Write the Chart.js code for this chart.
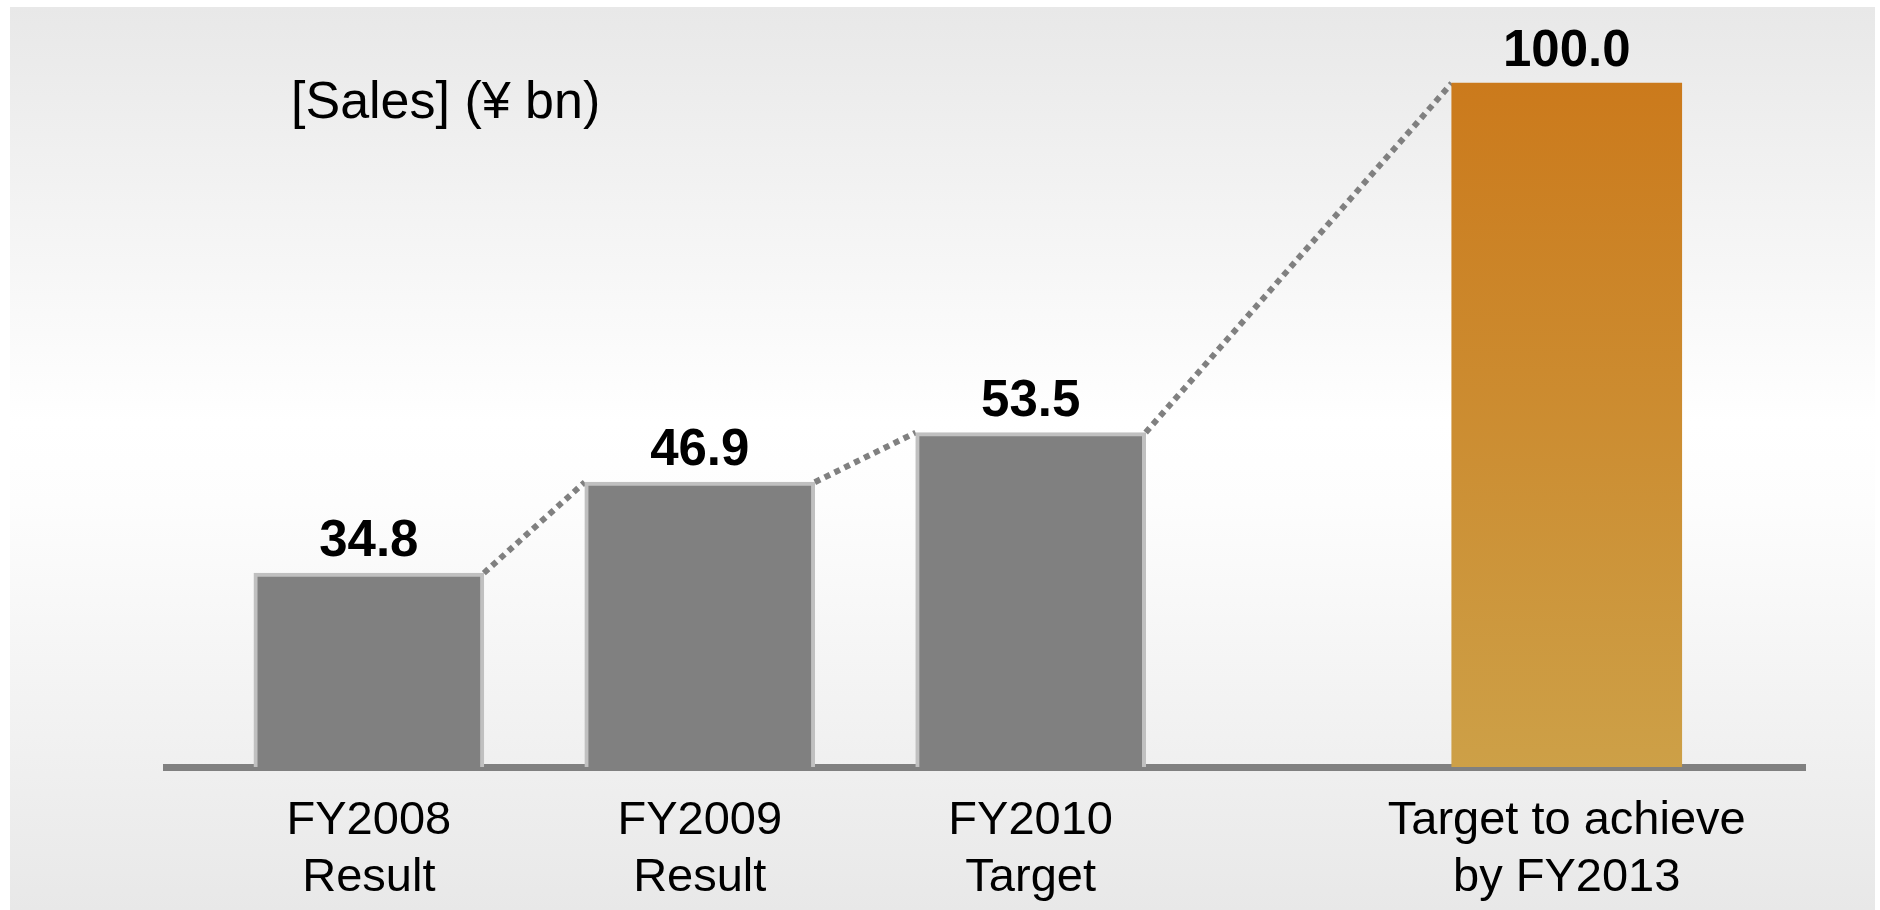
<!DOCTYPE html>
<html>
<head>
<meta charset="utf-8">
<script src="https://cdn.jsdelivr.net/npm/chart.js@4.4.0/dist/chart.umd.min.js"></script>
<style>
  body { margin: 0; background: #ffffff; }
  #fondo {
    position: absolute; left: 10px; top: 7px; width: 1865px; height: 903px;
    background: linear-gradient(to bottom, #e8e8e8 0%, #ffffff 46%, #fdfdfd 55%, #e8e8e8 100%);
  }
  #miGrafico { position: absolute; left: 0; top: 0; }
</style>
</head>
<body>
<div id="fondo"></div>
<canvas id="miGrafico" width="1880" height="910"></canvas>
<script>
// Datos
var categorias = [
  ['FY2008', 'Result'],
  ['FY2009', 'Result'],
  ['FY2010', 'Target'],
  ['Target to achieve', 'by FY2013']
];
var ventas = [34.8, 46.9, 53.5, 100.0];
var titulo = '[Sales] (\u00A5 bn)';

// hueco extra antes de la barra objetivo
var huecoObjetivo = 0.62;
var posiciones = categorias.map(function (c, i) {
  return i + (i === categorias.length - 1 ? huecoObjetivo : 0);
});

var fuente = '"Liberation Sans", Arial, sans-serif';

function colorBarra(ctx) {
  if (ctx.dataIndex !== categorias.length - 1) return '#808080';
  var chart = ctx.chart;
  if (!chart.chartArea) return '#cb8a2c';
  var y = chart.scales.y;
  var g = chart.ctx.createLinearGradient(0, y.getPixelForValue(ventas[ctx.dataIndex]), 0, chart.chartArea.bottom);
  g.addColorStop(0, '#cb7a1c');
  g.addColorStop(1, '#cda047');
  return g;
}

// lineas punteadas entre barras
var conectores = {
  id: 'conectores',
  beforeDatasetsDraw: function (chart) {
    var barras = chart.getDatasetMeta(0).data;
    var ctx = chart.ctx;
    ctx.save();
    ctx.strokeStyle = '#808080';
    ctx.lineWidth = 6;
    ctx.setLineDash([6, 5]);
    for (var i = 0; i < barras.length - 1; i++) {
      var a = barras[i], b = barras[i + 1];
      ctx.beginPath();
      ctx.moveTo(a.x + a.width / 2, a.y);
      ctx.lineTo(b.x - b.width / 2, b.y);
      ctx.stroke();
    }
    ctx.restore();
  }
};

// valores encima de las barras y titulo
var etiquetas = {
  id: 'etiquetas',
  afterDatasetsDraw: function (chart) {
    var barras = chart.getDatasetMeta(0).data;
    var ctx = chart.ctx;
    ctx.save();
    ctx.fillStyle = '#000000';
    ctx.font = 'bold 51px ' + fuente;
    ctx.textAlign = 'center';
    ctx.textBaseline = 'alphabetic';
    barras.forEach(function (b, i) {
      ctx.fillText(ventas[i].toFixed(1), b.x, b.y - 17);
    });
    ctx.font = '52px ' + fuente;
    ctx.textAlign = 'left';
    ctx.fillText(titulo, 291, 118);
    ctx.restore();
  }
};

var canvas = document.getElementById('miGrafico');
var grafico = new Chart(canvas, {
  type: 'bar',
  data: {
    datasets: [{
      data: ventas.map(function (v, i) { return { x: posiciones[i], y: v }; }),
      backgroundColor: colorBarra,
      borderColor: ventas.map(function (v, i) { return i < ventas.length - 1 ? '#c0c0c0' : 'rgba(0,0,0,0)'; }),
      borderWidth: ventas.map(function (v, i) { return i < ventas.length - 1 ? 4 : 0; }),
      barThickness: 230
    }]
  },
  options: {
    responsive: false,
    animation: false,
    layout: { padding: { top: 8, left: 166, right: 75, bottom: 0 } },
    plugins: { legend: { display: false }, tooltip: { enabled: false } },
    scales: {
      x: {
        type: 'linear',
        offset: false,
        min: -0.613,
        max: 4.34,
        grid: { display: false },
        border: { display: true, color: '#808080', width: 7 },
        afterBuildTicks: function (s) {
          s.ticks = posiciones.map(function (p) { return { value: p }; });
        },
        afterFit: function (s) { s.height = 143; },
        ticks: {
          autoSkip: false,
          maxRotation: 0,
          padding: 18,
          color: '#000000',
          font: { family: fuente, size: 47, lineHeight: 1.2 },
          callback: function (v, i) { return categorias[i]; }
        }
      },
      y: {
        display: false,
        min: 9,
        max: 110
      }
    }
  },
  plugins: [conectores, etiquetas]
});
</script>
</body>
</html>
